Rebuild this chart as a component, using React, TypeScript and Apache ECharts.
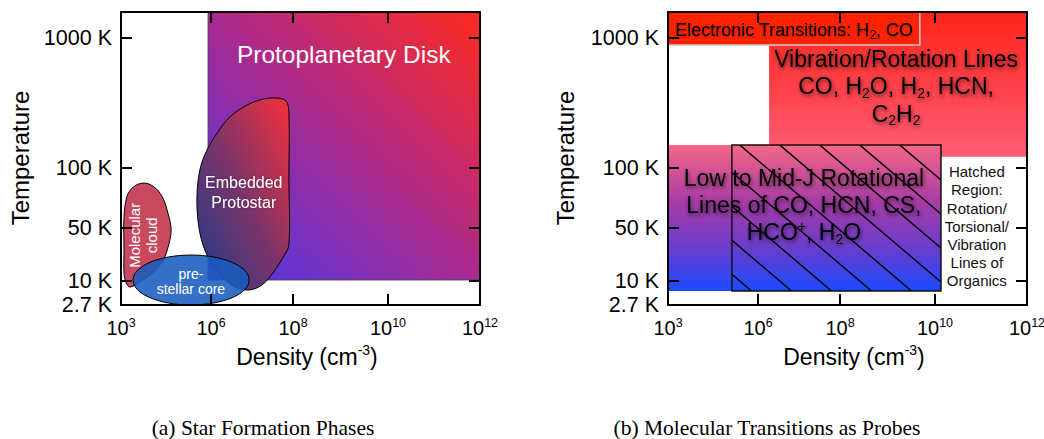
import React, { useEffect, useRef } from 'react';
import * as echarts from 'echarts';

const FONT = '"Liberation Sans", Arial, Helvetica, sans-serif';
const SERIF = '"Liberation Serif", "Times New Roman", Times, serif';

// ---------- axis ticks ----------
const densityTickExps = [3, 6, 8, 10, 12]; // log10 density (cm^-3)
const tempTicks = [2.7, 10, 50, 100, 1000]; // K
const tempTickLabels = ['2.7 K', '10 K', '50 K', '100 K', '1000 K'];

// ---------- schematic (non-uniform) scale anchors, in axis units ----------
const densityAnchorPos = [0, 90, 172, 267, 359];
const tempAnchorPos = [0, 24, 77, 137, 267];
const X_MAX = 359;
const Y_MAX = 293;

// ---------- (a) Star Formation Phases ----------
const diskDensity = [5.9, 12];
const diskTemp = [10.3, 1585];
const protostarDensity = [7.61, 7.83, 7.9, 7.9, 7.9, 7.76, 7.51, 7.24, 6.9, 6.54, 6.22, 5.9, 5.63, 5.53, 5.63, 5.87, 6.15, 6.46, 6.88, 7.27];
const protostarTemp = [345, 328, 270, 87, 30, 20.7, 12.8, 8.0, 6.1, 7.6, 12.4, 20.7, 43, 69, 98, 138, 186, 247, 305, 339];
const cloudDensity = [3.73, 4.07, 4.37, 4.57, 4.67, 4.57, 4.37, 3.97, 3.57, 3.3, 3.17, 3.1, 3.1, 3.1, 3.2, 3.4];
const cloudTemp = [84, 81, 72, 59, 47, 28, 17.8, 12.0, 9.0, 7.2, 9.0, 12.8, 25.6, 57, 72, 80];
const coreDensity = [3.4, 6.93];
const coreTemp = [2.7, 22];

// ---------- (b) Molecular Transitions as Probes ----------
const electronicDensity = [3, 9.68];
const electronicTemp = [883, 1585];
const vibrationDensity = [6.27, 12];
const vibrationTemp = [122, 1585];
const lowJDensity = [3, 10.13];
const lowJTemp = [5.8, 150];
const hatchDensity = [5.13, 10.13];
const hatchTemp = [5.8, 150];

// ---------- label anchors (density exponent, temperature K) ----------
const diskLabelAt = [9.07, 740];
const protostarLabelAt = [6.8, 75];
const cloudLabelAt = [3.73, 40];
const coreLabelAt = [5.33, 9.7];
const electronicLabelAt = [6.88, 1150];
const vibrationLabelAt = [9.18, 427];
const lowJLabelAt = [7.12, 65];
const hatchNoteAt = [10.91, 51];

function interp(v: number, a: number[], p: number[]) {
  let i = 0;
  while (i < a.length - 2 && v > a[i + 1]) i++;
  return p[i] + ((p[i + 1] - p[i]) * (v - a[i])) / (a[i + 1] - a[i]);
}
const logTempTicks = tempTicks.map((t) => Math.log10(t));
const xScale = (logN: number) => interp(logN, densityTickExps, densityAnchorPos);
const yScale = (T: number) => interp(Math.log10(T), logTempTicks, tempAnchorPos);
const toAxis = (n: number, t: number) => [xScale(n), yScale(t)];

const xLabelPos = densityTickExps.map(xScale);
const xInnerTicks = xLabelPos.slice(1, -1);
const yLabelPos = tempTicks.map(yScale);
const yInnerTicks = yLabelPos.slice(1);

function rectOf(api: any, dens: number[], temp: number[]) {
  const a = api.coord(toAxis(dens[0], temp[0]));
  const b = api.coord(toAxis(dens[1], temp[1]));
  return {
    x: Math.min(a[0], b[0]),
    y: Math.min(a[1], b[1]),
    width: Math.abs(b[0] - a[0]),
    height: Math.abs(b[1] - a[1]),
  };
}

const HATCH_GAP = 40;
const HATCH_SLOPE = 0.85;
const HATCH_OFFSET = 8;
function hatchLines(r: any) {
  const out: any[] = [];
  for (let k = -12; k <= 12; k++) {
    const xt = r.x + HATCH_OFFSET + k * HATCH_GAP;
    const xa = Math.max(xt, r.x);
    const xb = Math.min(xt + r.height / HATCH_SLOPE, r.x + r.width);
    if (xb - xa < 1) continue;
    out.push({
      type: 'line',
      shape: { x1: xa, y1: r.y + HATCH_SLOPE * (xa - xt), x2: xb, y2: r.y + HATCH_SLOPE * (xb - xt) },
      style: { stroke: '#000', lineWidth: 1.4 },
    });
  }
  return out;
}

function custom(grid: number, z: number, render: (api: any) => any, clip = true) {
  return {
    type: 'custom',
    xAxisIndex: grid * 2,
    yAxisIndex: grid * 2,
    z,
    clip,
    silent: true,
    data: [[0, 0]],
    renderItem: (_p: any, api: any) => render(api),
  };
}

function textEl(api: any, at: number[], style: any, rotation = 0) {
  const p = api.coord(toAxis(at[0], at[1]));
  return {
    type: 'text',
    x: p[0],
    y: p[1],
    rotation,
    style: { align: 'center', verticalAlign: 'middle', fontFamily: FONT, ...style },
  };
}

const shadowDark = {
  textShadowColor: 'rgba(0,0,0,0.6)',
  textShadowBlur: 4,
  textShadowOffsetX: 1,
  textShadowOffsetY: 2,
};
const richBig = (fs: number, lh: number) => ({
  t: { fontSize: fs, lineHeight: lh, fill: '#000', fontFamily: FONT, ...shadowDark },
  sub: { fontSize: Math.round(fs * 0.62), lineHeight: Math.round(fs * 0.7), verticalAlign: 'bottom', fill: '#000', fontFamily: FONT, ...shadowDark },
  sup: { fontSize: Math.round(fs * 0.62), lineHeight: Math.round(fs * 0.7), verticalAlign: 'top', fill: '#000', fontFamily: FONT, ...shadowDark },
});

export default function App() {
  const ref = useRef<HTMLDivElement>(null);
  useEffect(() => {
    if (!ref.current) return;
    const chart = echarts.init(ref.current, null, { renderer: 'svg' });

    const axisLine = { show: true, onZero: false, lineStyle: { color: '#000', width: 2 } };
    const tick = (vals: number[]) => ({
      show: true,
      inside: true,
      length: 11,
      customValues: vals,
      lineStyle: { color: '#000', width: 2 },
    });
    const xFmt = (v: number) => {
      const i = xLabelPos.findIndex((p) => Math.abs(p - v) < 0.01);
      return i < 0 ? '' : `{b|10}{sup|${densityTickExps[i]}}`;
    };
    const yFmt = (v: number) => {
      const i = yLabelPos.findIndex((p) => Math.abs(p - v) < 0.01);
      return i < 0 ? '' : tempTickLabels[i];
    };
    const xRich = {
      b: { fontSize: 20, lineHeight: 24, color: '#000', fontFamily: FONT },
      sup: { fontSize: 12.5, lineHeight: 14, verticalAlign: 'top', color: '#000', fontFamily: FONT },
    };

    const xAxes: any[] = [];
    const yAxes: any[] = [];
    [0, 1].forEach((g) => {
      xAxes.push({
        type: 'value', gridIndex: g, position: 'bottom', min: 0, max: X_MAX, z: 10,
        axisLine, axisTick: tick(xInnerTicks), splitLine: { show: false },
        axisLabel: { show: true, customValues: xLabelPos, formatter: xFmt, margin: 11, rich: xRich, color: '#000', fontFamily: FONT, fontSize: 20 },
      });
      xAxes.push({
        type: 'value', gridIndex: g, position: 'top', min: 0, max: X_MAX, z: 10,
        axisLine, axisTick: tick(xInnerTicks), splitLine: { show: false }, axisLabel: { show: false },
      });
      yAxes.push({
        type: 'value', gridIndex: g, position: 'left', min: 0, max: Y_MAX, z: 10,
        axisLine, axisTick: tick(yInnerTicks), splitLine: { show: false },
        axisLabel: { show: true, customValues: yLabelPos, formatter: yFmt, margin: 9, color: '#000', fontFamily: FONT, fontSize: 21.5 },
      });
      yAxes.push({
        type: 'value', gridIndex: g, position: 'right', min: 0, max: Y_MAX, z: 10,
        axisLine, axisTick: tick(yInnerTicks), splitLine: { show: false }, axisLabel: { show: false },
      });
    });

    const series: any[] = [
      // ----- panel (a) -----
      custom(0, 1, (api) => ({
        type: 'rect',
        shape: rectOf(api, diskDensity, diskTemp),
        style: {
          fill: new echarts.graphic.LinearGradient(0, 1, 1, 0, [
            { offset: 0, color: '#4438ee' },
            { offset: 0.5, color: '#aa2a90' },
            { offset: 1, color: '#ff2a1c' },
          ]),
          stroke: 'rgba(70,70,70,0.85)',
          lineWidth: 1,
        },
      })),
      custom(0, 2, (api) => ({
        type: 'polygon',
        shape: {
          points: protostarDensity.map((n, i) => api.coord(toAxis(n, protostarTemp[i]))),
          smooth: 0.35,
        },
        style: {
          fill: new echarts.graphic.LinearGradient(0, 1, 1, 0, [
            { offset: 0, color: '#1c3c8e' },
            { offset: 0.5, color: '#7d3468' },
            { offset: 1, color: '#f8303a' },
          ]),
          stroke: '#000',
          lineWidth: 1,
        },
      })),
      custom(0, 3, (api) => ({
        type: 'polygon',
        shape: {
          points: cloudDensity.map((n, i) => api.coord(toAxis(n, cloudTemp[i]))),
          smooth: 0.35,
        },
        style: { fill: '#c94a5f', stroke: '#000', lineWidth: 1 },
      })),
      custom(0, 4, (api) => {
        const r = rectOf(api, coreDensity, coreTemp);
        return {
          type: 'ellipse',
          shape: { cx: r.x + r.width / 2, cy: r.y + r.height / 2, rx: r.width / 2, ry: r.height / 2 },
          style: { fill: 'rgba(26,92,190,0.88)', stroke: '#000', lineWidth: 1 },
        };
      }, false),
      custom(0, 5, (api) => ({
        type: 'group',
        children: [
          textEl(api, diskLabelAt, { text: 'Protoplanetary Disk', fontSize: 24.5, fill: '#fff' }),
          textEl(api, protostarLabelAt, {
            text: 'Embedded\nProtostar', fontSize: 16, lineHeight: 20, fill: '#fff',
            textShadowColor: 'rgba(0,0,0,0.35)', textShadowBlur: 2,
          }),
          textEl(api, cloudLabelAt, { text: 'Molecular\ncloud', fontSize: 15, lineHeight: 17, fill: '#fff' }, Math.PI / 2),
          textEl(api, coreLabelAt, { text: 'pre-\nstellar core', fontSize: 14, lineHeight: 15, fill: '#fff' }),
        ],
      }), false),

      // ----- panel (b) -----
      custom(1, 1, (api) => ({
        type: 'rect',
        shape: rectOf(api, vibrationDensity, vibrationTemp),
        style: {
          fill: new echarts.graphic.LinearGradient(0, 0, 0, 1, [
            { offset: 0, color: '#ff2418' },
            { offset: 1, color: '#ff5c77' },
          ]),
        },
      })),
      custom(1, 2, (api) => ({
        type: 'rect',
        shape: rectOf(api, electronicDensity, electronicTemp),
        style: { fill: '#ff2200', stroke: '#c9c9c9', lineWidth: 1.5 },
      })),
      custom(1, 3, (api) => ({
        type: 'rect',
        shape: rectOf(api, lowJDensity, lowJTemp),
        style: {
          fill: new echarts.graphic.LinearGradient(0, 0, 0, 1, [
            { offset: 0, color: '#f66688' },
            { offset: 0.4, color: '#a53ba6' },
            { offset: 0.7, color: '#6a3dcc' },
            { offset: 1, color: '#1a4aff' },
          ]),
        },
      })),
      custom(1, 4, (api) => {
        const r = rectOf(api, hatchDensity, hatchTemp);
        return {
          type: 'group',
          children: [
            ...hatchLines(r),
            { type: 'rect', shape: r, style: { fill: 'none', stroke: '#111', lineWidth: 1.5 } },
          ],
        };
      }),
      custom(1, 5, (api) => ({
        type: 'group',
        children: [
          textEl(api, electronicLabelAt, {
            text: '{t|Electronic Transitions: H}{sub|2}{t|, CO}',
            rich: {
              t: { fontSize: 18, lineHeight: 22, fill: '#000', fontFamily: FONT, textShadowColor: 'rgba(0,0,0,0.35)', textShadowBlur: 2, textShadowOffsetY: 1 },
              sub: { fontSize: 12, lineHeight: 13, verticalAlign: 'bottom', fill: '#000', fontFamily: FONT },
            },
          }),
          textEl(api, vibrationLabelAt, {
            text: '{t|Vibration/Rotation Lines}\n{t|CO, H}{sub|2}{t|O, H}{sub|2}{t|, HCN,}\n{t|C}{sub|2}{t|H}{sub|2}',
            rich: richBig(23, 27.5),
          }),
          textEl(api, lowJLabelAt, {
            text: '{t|Low to Mid-J Rotational}\n{t|Lines of CO, HCN, CS,}\n{t|HCO}{sup|+}{t|, H}{sub|2}{t|O}',
            rich: richBig(23, 27),
          }),
          textEl(api, hatchNoteAt, {
            text: 'Hatched\nRegion:\nRotation/\nTorsional/\nVibration\nLines of\nOrganics',
            fontSize: 15, lineHeight: 18.2, fill: '#111',
          }),
        ],
      }), false),
    ];

    const densTitle = (x: number) => ({
      type: 'text', x, y: 357, z: 20,
      style: {
        text: '{a|Density (cm}{s|-3}{a|)}',
        align: 'center', verticalAlign: 'middle',
        rich: {
          a: { fontSize: 23, lineHeight: 28, fill: '#000', fontFamily: FONT },
          s: { fontSize: 14, lineHeight: 16, verticalAlign: 'top', fill: '#000', fontFamily: FONT },
        },
      },
    });
    const tempTitle = (x: number) => ({
      type: 'text', x, y: 158, rotation: Math.PI / 2, z: 20,
      style: { text: 'Temperature', fontSize: 24, fontFamily: FONT, fill: '#000', align: 'center', verticalAlign: 'middle' },
    });
    const caption = (x: number, text: string) => ({
      type: 'text', x, y: 428, z: 20,
      style: { text, fontSize: 21.5, fontFamily: SERIF, fill: '#000', align: 'center', verticalAlign: 'middle' },
    });

    chart.setOption({
      animation: false,
      backgroundColor: '#fff',
      textStyle: { fontFamily: FONT },
      grid: [
        { left: 121, top: 12, width: X_MAX, height: Y_MAX, outerBoundsMode: 'none', containLabel: false },
        { left: 668, top: 12, width: X_MAX, height: Y_MAX, outerBoundsMode: 'none', containLabel: false },
      ],
      xAxis: xAxes,
      yAxis: yAxes,
      series,
      graphic: [
        tempTitle(20),
        tempTitle(565),
        densTitle(307),
        densTitle(854),
        caption(263, '(a) Star Formation Phases'),
        caption(767, '(b) Molecular Transitions as Probes'),
      ],
    });
    return () => chart.dispose();
  }, []);
  return (
    <div
      ref={ref}
      style={{ position: 'fixed', left: 0, top: 0, width: 1044, height: 439, background: '#fff' }}
    />
  );
}
